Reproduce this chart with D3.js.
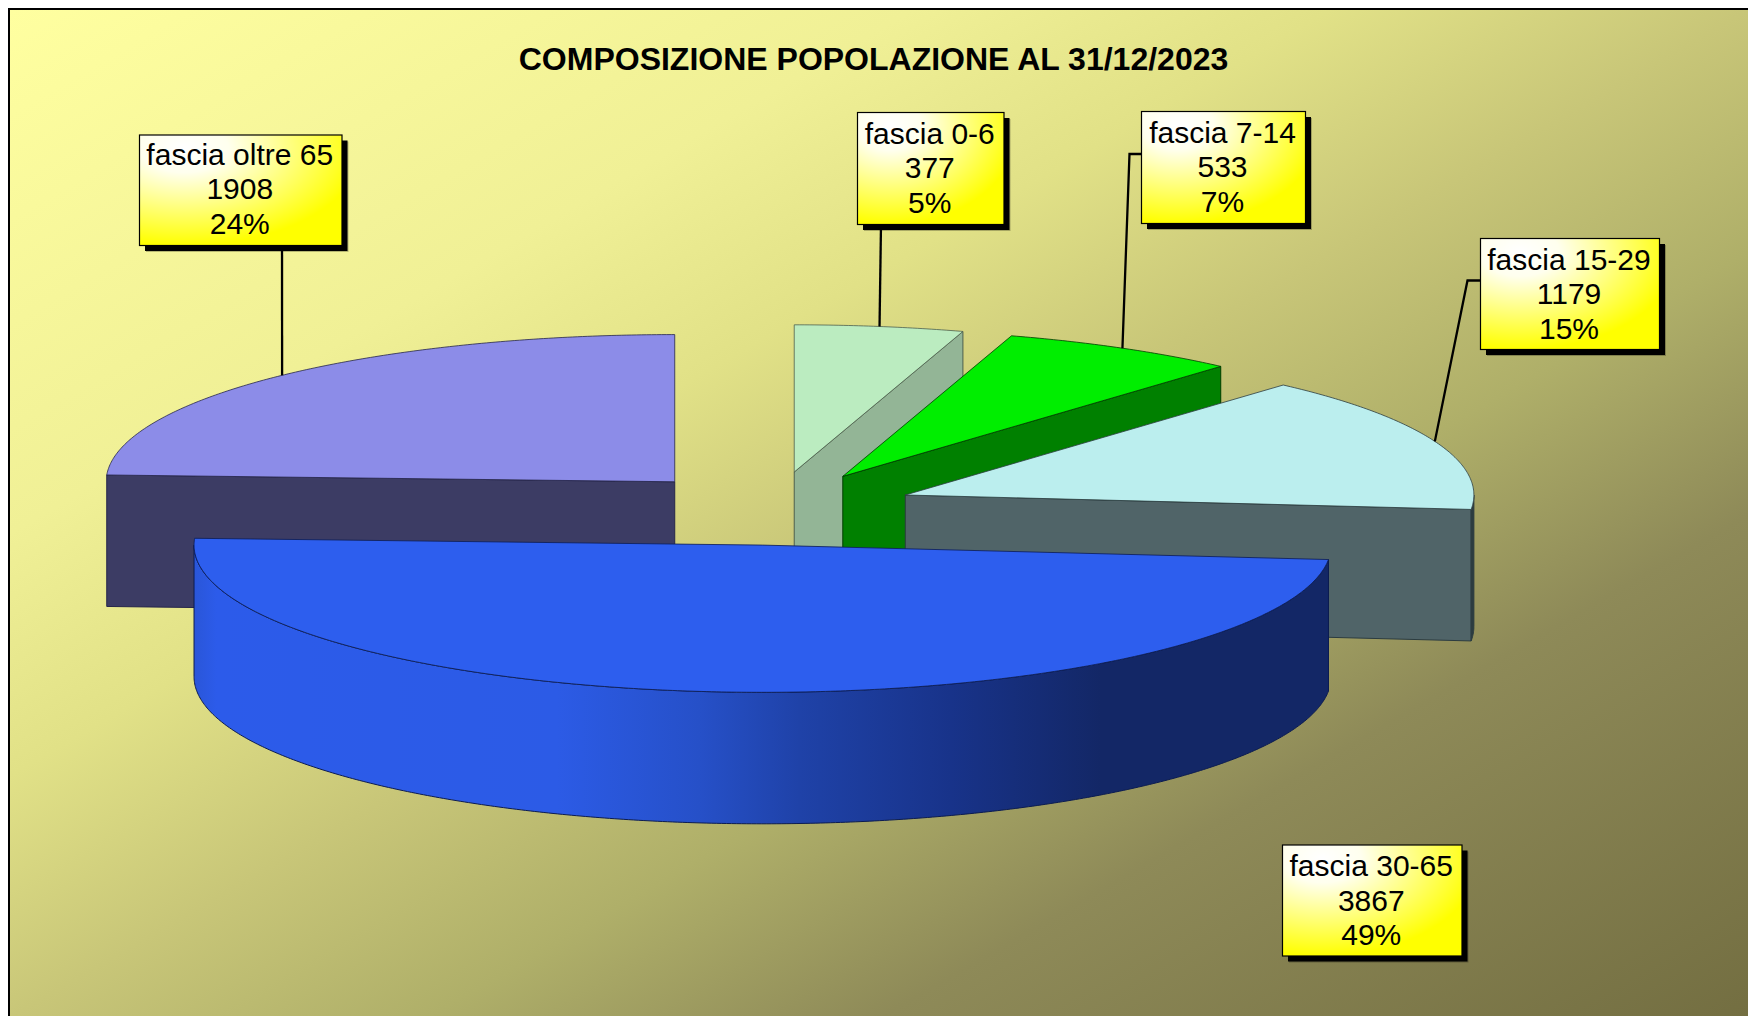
<!DOCTYPE html>
<html>
<head>
<meta charset="utf-8">
<script src="https://cdn.jsdelivr.net/npm/d3@7"></script>
<style>
  html, body { margin: 0; padding: 0; background: #fff; overflow: hidden; }
  text { font-family: "Liberation Sans", Arial, sans-serif; fill: #000; }
</style>
</head>
<body>
<div id="chart"></div>
<script>
// Values
const categories = ['fascia 0-6', 'fascia 7-14', 'fascia 15-29', 'fascia 30-65', 'fascia oltre 65'];
const values = [377, 533, 1179, 3867, 1908];
const chartTitle = 'COMPOSIZIONE POPOLAZIONE AL 31/12/2023';

// Slice colours, same order as categories
const topColors = ['#bbecc0', '#00ee00', '#bbeeee', '#2d5eee', '#8c8ce8'];
const wallColors = ['#93b596', '#008000', '#506468', '#2d5eee', '#3c3c64'];
const edgeColors = ['#4c5f4e', '#003c00', '#2c3c40', '#0c1c50', '#26264a'];

// Label boxes: top left corner and optional elbow of the leader line
const labelBoxes = [
  { x: 857.5, y: 112.5, w: 146.5, h: 112, from: 'bottom', fromX: 881 },
  { x: 1141.5, y: 111.5, w: 164, h: 112, from: 'left', fromY: 154, elbow: 1129.5 },
  { x: 1480.5, y: 238.5, w: 179, h: 111, from: 'left', fromY: 280.5, elbow: 1467.5 },
  { x: 1282.5, y: 845, w: 179.5, h: 111 },
  { x: 139.5, y: 135, w: 202.5, h: 110.5, from: 'bottom', fromX: 282, textDy: -1.5 }
];

const width = 1748;
const height = 1016;
const pieCenter = { x: 772.9, y: 508.4 };
const radiusX = 568.6;
const radiusY = 147.2;
const depth = 131.5;
const explode = 0.25;
const step = Math.PI / 360;

const svg = d3.select('#chart').append('svg')
  .attr('width', width)
  .attr('height', height)
  .style('display', 'block');

const defs = svg.append('defs');

// page background, corner to corner of the frame
const bg = defs.append('linearGradient')
  .attr('id', 'bg')
  .attr('x1', 0).attr('y1', 0)
  .attr('x2', 1).attr('y2', 1);
[[0, '#ffffa0'], [0.26, '#f0f096'], [0.38, '#e1e187'], [0.5, '#c8c678'], [0.62, '#afaf69'], [0.75, '#8e8a58'], [1, '#736e41']]
  .forEach(d => bg.append('stop').attr('offset', d[0]).attr('stop-color', d[1]));

// label box fill
const boxFill = defs.append('radialGradient')
  .attr('id', 'boxFill')
  .attr('cx', 0.22).attr('cy', 0.12).attr('r', 0.88);
[[0, '#ffffff'], [0.25, '#ffffee'], [1, '#ffff00']]
  .forEach(d => boxFill.append('stop').attr('offset', d[0]).attr('stop-color', d[1]));

// rim of the big slice, dark towards the right
const rim = defs.append('linearGradient')
  .attr('id', 'rim')
  .attr('gradientUnits', 'userSpaceOnUse')
  .attr('x1', 194).attr('y1', 0)
  .attr('x2', 1328).attr('y2', 0);
[[0, '#2a56d8'], [0.02, '#2c5bea'], [0.32, '#2c5be6'], [0.446, '#2650c8'], [0.534, '#1f42a8'], [0.667, '#18338a'], [0.8, '#132766'], [1, '#132766']]
  .forEach(d => rim.append('stop').attr('offset', d[0]).attr('stop-color', d[1]));

svg.append('rect')
  .attr('x', 9).attr('y', 9)
  .attr('width', width - 7).attr('height', height - 7)
  .attr('fill', 'url(#bg)')
  .attr('stroke', '#000')
  .attr('stroke-width', 2);

svg.append('text')
  .attr('x', 873.5)
  .attr('y', 70)
  .attr('text-anchor', 'middle')
  .attr('font-size', 32)
  .attr('font-weight', 'bold')
  .text(chartTitle);

// Pie angles: clockwise from 12 o'clock, in data order
const arcs = d3.pie().sort(null)(values);
const total = d3.sum(values);
const pctFormat = d3.format('.0%');

const xScale = d3.scaleLinear().domain([-1, 1]).range([-radiusX, radiusX]);
const yScale = d3.scaleLinear().domain([-1, 1]).range([-radiusY, radiusY]);
const toPath = d3.line();

function rimPoint(center, angle, drop) {
  return [center.x + xScale(Math.sin(angle)), center.y + yScale(-Math.cos(angle)) + (drop || 0)];
}

function sliceCenter(d) {
  const mid = (d.startAngle + d.endAngle) / 2;
  return {
    x: pieCenter.x + explode * xScale(Math.sin(mid)),
    y: pieCenter.y + explode * yScale(-Math.cos(mid))
  };
}

function sampleAngles(a0, a1) {
  const list = d3.range(a0, a1, step);
  list.push(a1);
  return list;
}

const pieGroup = svg.append('g');

// Painter's order: back slices first, the big front one last
[4, 0, 1, 2, 3].forEach(i => {
  const d = arcs[i];
  const c = sliceCenter(d);
  const g = pieGroup.append('g');
  const center = [c.x, c.y];
  const centerLow = [c.x, c.y + depth];

  // radial walls, only if they face the viewer
  [[d.startAngle, d.startAngle - Math.PI / 2], [d.endAngle, d.endAngle + Math.PI / 2]].forEach(w => {
    if (Math.cos(w[1]) >= -0.001) return;
    const p = rimPoint(c, w[0]);
    const q = rimPoint(c, w[0], depth);
    g.append('path')
      .attr('d', toPath([center, p, q, centerLow]) + 'Z')
      .attr('fill', wallColors[i])
      .attr('stroke', edgeColors[i])
      .attr('stroke-width', 1);
  });

  // outer rim, front half only
  const a0 = Math.max(d.startAngle, Math.PI / 2);
  const a1 = Math.min(d.endAngle, Math.PI * 1.5);
  if (a1 > a0) {
    const angles = sampleAngles(a0, a1);
    const upper = angles.map(a => rimPoint(c, a));
    const lower = angles.map(a => rimPoint(c, a, depth)).reverse();
    g.append('path')
      .attr('d', toPath(upper.concat(lower)) + 'Z')
      .attr('fill', i === 3 ? 'url(#rim)' : '#2c3c40')
      .attr('stroke', edgeColors[i])
      .attr('stroke-width', 1);
  }

  // top face
  const outline = sampleAngles(d.startAngle, d.endAngle).map(a => rimPoint(c, a));
  g.append('path')
    .attr('d', toPath([center].concat(outline)) + 'Z')
    .attr('fill', topColors[i])
    .attr('stroke', edgeColors[i])
    .attr('stroke-width', 0.8);
});

// Leader lines and label boxes
const labelGroup = svg.append('g');

arcs.forEach((d, i) => {
  const box = labelBoxes[i];
  if (box.from) {
    const mid = (d.startAngle + d.endAngle) / 2;
    const end = rimPoint(sliceCenter(d), mid);
    const pts = box.from === 'bottom'
      ? [[box.fromX, box.y + box.h], end]
      : [[box.x, box.fromY], [box.elbow, box.fromY], end];
    labelGroup.append('path')
      .attr('d', toPath(pts))
      .attr('fill', 'none')
      .attr('stroke', '#000')
      .attr('stroke-width', 2.3);
  }

  labelGroup.append('rect')
    .attr('x', box.x + 6.5).attr('y', box.y + 6.5)
    .attr('width', box.w).attr('height', box.h)
    .attr('fill', '#000').attr('opacity', 0.25);
  labelGroup.append('rect')
    .attr('x', box.x + 5.5).attr('y', box.y + 5.5)
    .attr('width', box.w).attr('height', box.h)
    .attr('fill', '#000');
  labelGroup.append('rect')
    .attr('x', box.x).attr('y', box.y)
    .attr('width', box.w).attr('height', box.h)
    .attr('fill', 'url(#boxFill)')
    .attr('stroke', '#000')
    .attr('stroke-width', 1.2);

  [categories[i], values[i], pctFormat(values[i] / total)].forEach((t, k) => {
    labelGroup.append('text')
      .attr('x', box.x + box.w / 2 - 1)
      .attr('y', box.y + 31 + k * 34.7 + (box.textDy || 0))
      .attr('text-anchor', 'middle')
      .attr('font-size', 30)
      .text(t);
  });
});
</script>
</body>
</html>
